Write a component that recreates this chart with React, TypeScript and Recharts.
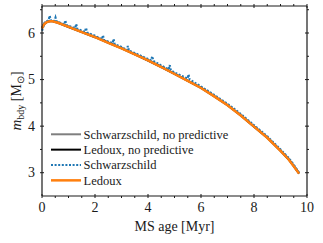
import { LineChart, Line, XAxis, YAxis } from "recharts";

// MS age [Myr] and boundary mass [Msun]
const ageBase = [0, 0.05, 0.1, 0.2, 0.3, 0.4, 0.6, 1, 1.5, 2, 2.5, 3, 3.5, 4, 4.5, 5, 5.5, 6, 6.5, 7, 7.5, 8, 8.5, 9, 9.3, 9.5, 9.7];
const mSchwNoPred = [6.11, 6.17, 6.21, 6.25, 6.26, 6.26, 6.23, 6.14, 6.03, 5.92, 5.8, 5.68, 5.55, 5.42, 5.28, 5.13, 4.98, 4.83, 4.65, 4.46, 4.24, 4.0, 3.76, 3.48, 3.3, 3.15, 2.99];
const mLedouxNoPred = [6.1, 6.16, 6.2, 6.24, 6.25, 6.25, 6.22, 6.13, 6.02, 5.91, 5.79, 5.67, 5.54, 5.41, 5.27, 5.12, 4.97, 4.82, 4.64, 4.45, 4.23, 3.99, 3.75, 3.47, 3.29, 3.14, 2.98];
const mLedoux = [6.1, 6.16, 6.2, 6.24, 6.25, 6.25, 6.22, 6.13, 6.02, 5.91, 5.79, 5.67, 5.54, 5.41, 5.27, 5.12, 4.97, 4.82, 4.64, 4.45, 4.23, 3.99, 3.75, 3.47, 3.29, 3.14, 2.98];

const ageSchw = [0, 0.1, 0.2, 0.25, 0.29, 0.33, 0.47, 0.51, 0.55, 0.84, 0.88, 0.92, 1.25, 1.29, 1.33, 1.62, 1.66, 1.7, 2.0, 2.26, 2.3, 2.34, 2.66, 2.7, 2.74, 3.0, 3.2, 3.24, 3.28, 3.5, 4.0, 4.12, 4.16, 4.2, 4.5, 4.78, 4.82, 4.86, 5.0, 5.49, 5.53, 5.57, 6, 6.5, 7, 7.5, 8, 8.5, 9, 9.3, 9.5, 9.7];
const mSchw = [6.05, 6.22, 6.26, 6.27, 6.37, 6.27, 6.26, 6.33, 6.25, 6.18, 6.27, 6.17, 6.1, 6.19, 6.09, 6.02, 6.11, 6.01, 5.94, 5.86, 5.95, 5.85, 5.78, 5.87, 5.76, 5.7, 5.63, 5.72, 5.62, 5.57, 5.44, 5.41, 5.5, 5.4, 5.3, 5.22, 5.31, 5.2, 5.15, 5.02, 5.11, 5.0, 4.85, 4.67, 4.48, 4.26, 4.02, 3.78, 3.5, 3.32, 3.17, 3.0];

const xTicks = [0, 0.5, 1, 1.5, 2, 2.5, 3, 3.5, 4, 4.5, 5, 5.5, 6, 6.5, 7, 7.5, 8, 8.5, 9, 9.5, 10];
const xLabels = [0, 2, 4, 6, 8, 10];
const yTicks = [3, 3.5, 4, 4.5, 5, 5.5, 6, 6.5];
const yLabels = [3, 4, 5, 6];

const toRows = (ages: number[], ms: number[]) => ages.map((age, i) => ({ age, m: ms[i] }));

// the grey run sits under the others, so it also carries the top/right axes
const series = [
  { name: "Schwarzschild, no predictive", data: toRows(ageBase, mSchwNoPred), color: "#7f7f7f", width: 2, dash: undefined as string | undefined, xId: "top", yId: "right" },
  { name: "Ledoux, no predictive", data: toRows(ageBase, mLedouxNoPred), color: "#000000", width: 2, dash: undefined, xId: "bottom", yId: "left" },
  { name: "Schwarzschild", data: toRows(ageSchw, mSchw), color: "#1f77b4", width: 2.2, dash: "2 1.6", xId: "bottom", yId: "left" },
  { name: "Ledoux", data: toRows(ageBase, mLedoux), color: "#ff7f0e", width: 2.5, dash: undefined, xId: "bottom", yId: "left" },
];

const FONT = "Liberation Serif, serif";
const INK = "#1a1a1a";

const BottomTick = ({ x = 0, y = 0, payload }: any) => {
  const v = payload?.value ?? 0;
  const major = xLabels.includes(v);
  return (
    <g>
      <line x1={x} x2={x} y1={y} y2={y - (major ? 4 : 2)} stroke={INK} strokeWidth={1} />
      {major && (
        <text x={x} y={y + 14} textAnchor="middle" fontSize={14} fontFamily={FONT} fill={INK}>{v}</text>
      )}
    </g>
  );
};

const TopTick = ({ x = 0, y = 0, payload }: any) => {
  const major = xLabels.includes(payload?.value ?? 0);
  return <line x1={x} x2={x} y1={y} y2={y + (major ? 4 : 2)} stroke={INK} strokeWidth={1} />;
};

const LeftTick = ({ x = 0, y = 0, payload }: any) => {
  const v = payload?.value ?? 0;
  const major = yLabels.includes(v);
  return (
    <g>
      <line x1={x} x2={x + (major ? 4 : 2)} y1={y} y2={y} stroke={INK} strokeWidth={1} />
      {major && (
        <text x={x - 5} y={y + 4.5} textAnchor="end" fontSize={14} fontFamily={FONT} fill={INK}>{v}</text>
      )}
    </g>
  );
};

const RightTick = ({ x = 0, y = 0, payload }: any) => {
  const major = yLabels.includes(payload?.value ?? 0);
  return <line x1={x} x2={x - (major ? 4 : 2)} y1={y} y2={y} stroke={INK} strokeWidth={1} />;
};

export default function App() {
  return (
    <div style={{ position: "absolute", left: 0, top: 0, width: 323, height: 243, background: "#fff" }}>
      <LineChart width={323} height={243} margin={{ top: 5, right: 15, bottom: 0, left: 0 }}>
        <XAxis
          xAxisId="bottom" type="number" dataKey="age" domain={[0, 10]} ticks={xTicks} interval={0}
          height={47} tickSize={0} tick={<BottomTick />} stroke={INK} strokeWidth={1.2}
        />
        <XAxis
          xAxisId="top" orientation="top" type="number" dataKey="age" domain={[0, 10]} ticks={xTicks} interval={0}
          height={1} tickSize={0} tick={<TopTick />} stroke={INK} strokeWidth={1.2}
        />
        <YAxis
          yAxisId="left" type="number" domain={[2.5, 6.58]} ticks={yTicks} interval={0}
          width={42} tickSize={0} tick={<LeftTick />} stroke={INK} strokeWidth={1.2}
        />
        <YAxis
          yAxisId="right" orientation="right" type="number" domain={[2.5, 6.58]} ticks={yTicks} interval={0}
          width={1} tickSize={0} tick={<RightTick />} stroke={INK} strokeWidth={1.2}
        />
        {series.map((s) => (
          <Line
            key={s.name}
            xAxisId={s.xId}
            yAxisId={s.yId}
            data={s.data}
            dataKey="m"
            name={s.name}
            type="linear"
            stroke={s.color}
            strokeWidth={s.width}
            strokeDasharray={s.dash}
            dot={false}
            activeDot={false}
            isAnimationActive={false}
          />
        ))}
      </LineChart>
      <svg width={323} height={243} style={{ position: "absolute", left: 0, top: 0, pointerEvents: "none" }}>
        <text transform="translate(21,101) rotate(-90)" textAnchor="middle" fontSize={14} fontFamily={FONT} fill={INK}>
          <tspan fontStyle="italic" fontSize={15}>m</tspan>
          <tspan fontSize={10} dy={3}>bdy</tspan>
          <tspan dy={-3}> [M</tspan>
          <tspan fontSize={10} dy={3}>⊙</tspan>
          <tspan dy={-3}>]</tspan>
        </text>
        <text x={174.5} y={231} textAnchor="middle" fontSize={14} fontFamily={FONT} fill={INK}>MS age [Myr]</text>
        {series.map((s, i) => {
          const ry = 134.3 + i * 15.35;
          return (
            <g key={s.name}>
              <line x1={51} x2={81} y1={ry} y2={ry} stroke={s.color} strokeWidth={s.width} strokeDasharray={s.dash} />
              <text x={83.5} y={ry + 4.3} fontSize={12.5} fontFamily={FONT} fill={INK}>{s.name}</text>
            </g>
          );
        })}
      </svg>
    </div>
  );
}
